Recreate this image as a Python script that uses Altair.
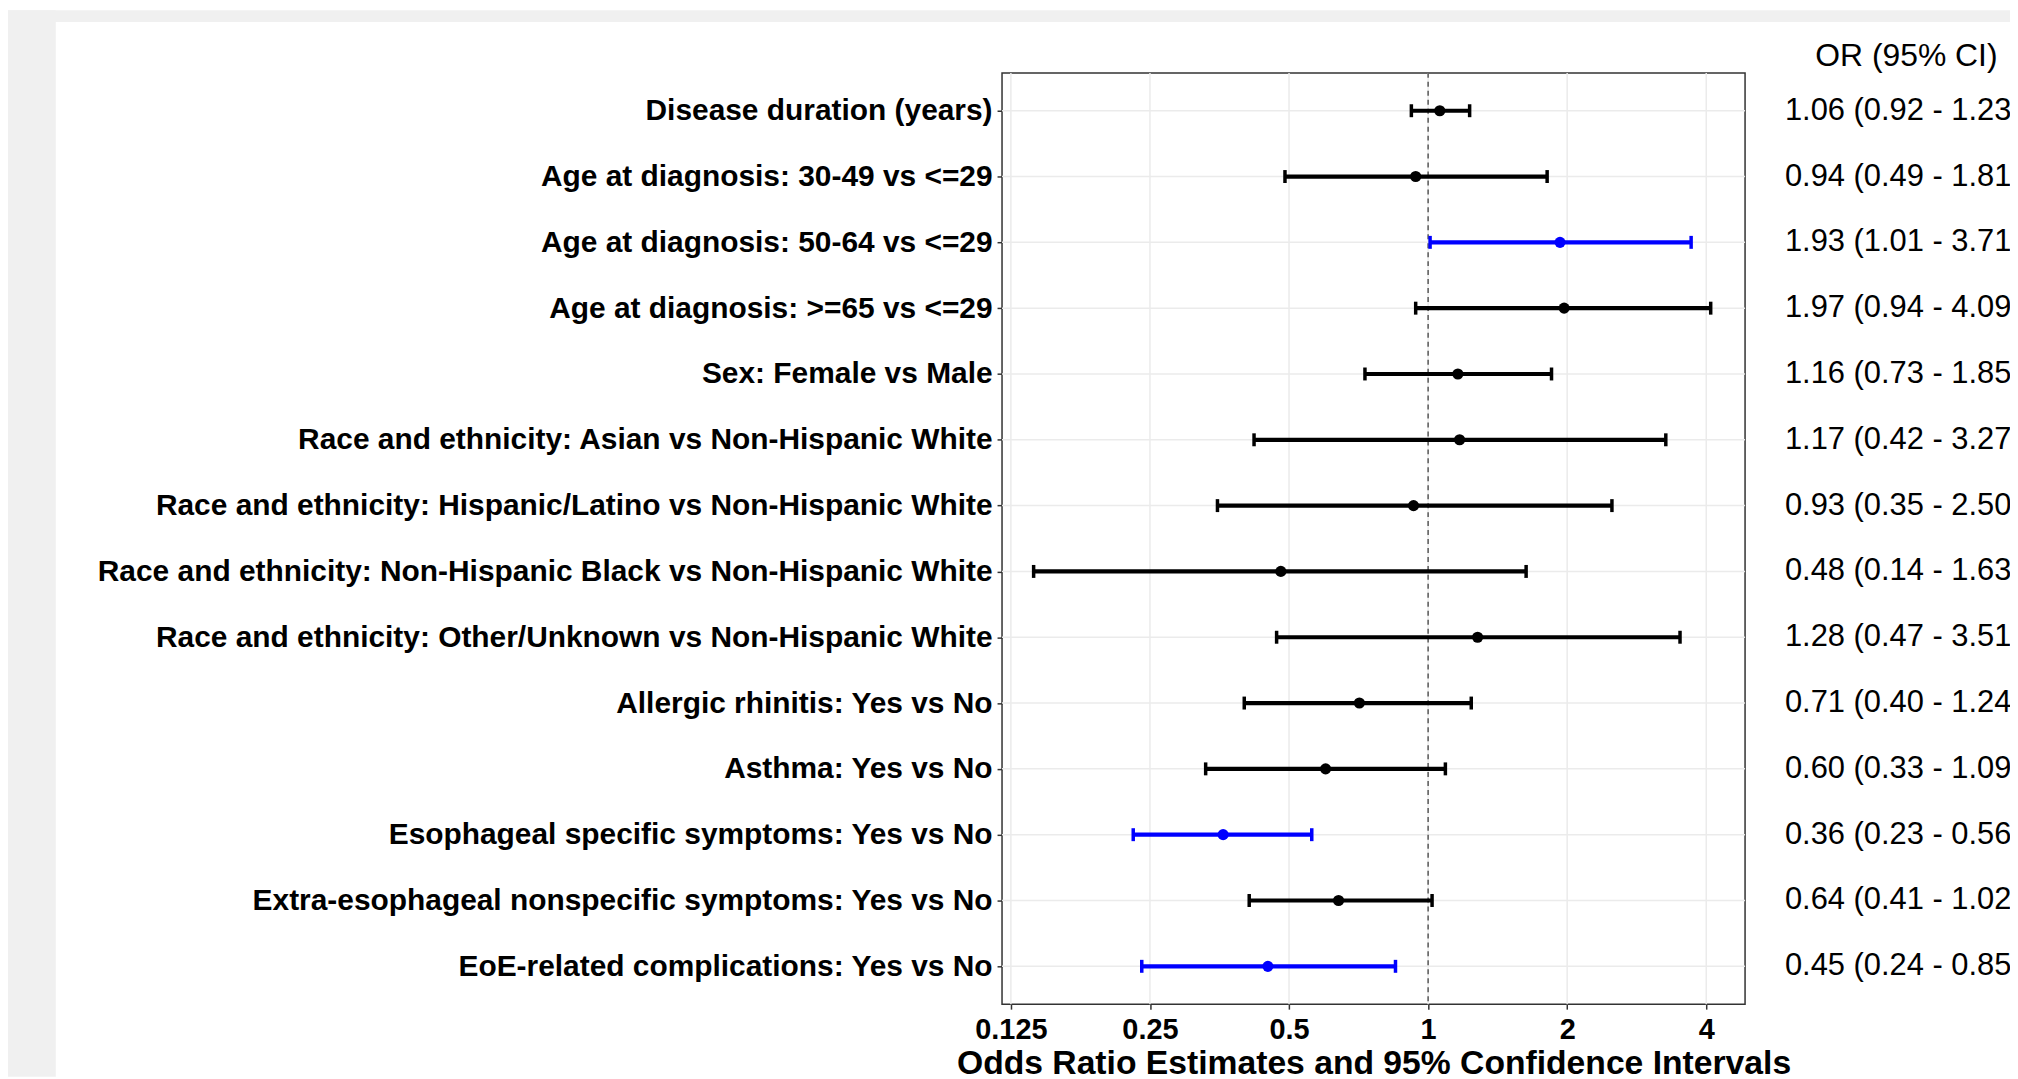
import altair as alt
import pandas as pd

labels = [
    "Disease duration (years)",
    "Age at diagnosis: 30-49 vs <=29",
    "Age at diagnosis: 50-64 vs <=29",
    "Age at diagnosis: >=65 vs <=29",
    "Sex: Female vs Male",
    "Race and ethnicity: Asian vs Non-Hispanic White",
    "Race and ethnicity: Hispanic/Latino vs Non-Hispanic White",
    "Race and ethnicity: Non-Hispanic Black vs Non-Hispanic White",
    "Race and ethnicity: Other/Unknown vs Non-Hispanic White",
    "Allergic rhinitis: Yes vs No",
    "Asthma: Yes vs No",
    "Esophageal specific symptoms: Yes vs No",
    "Extra-esophageal nonspecific symptoms: Yes vs No",
    "EoE-related complications: Yes vs No",
]
or_vals = [1.06, 0.94, 1.93, 1.97, 1.16, 1.17, 0.93, 0.48, 1.28, 0.71, 0.60, 0.36, 0.64, 0.45]
lo_vals = [0.92, 0.49, 1.01, 0.94, 0.73, 0.42, 0.35, 0.14, 0.47, 0.40, 0.33, 0.23, 0.41, 0.24]
hi_vals = [1.23, 1.81, 3.71, 4.09, 1.85, 3.27, 2.50, 1.63, 3.51, 1.24, 1.09, 0.56, 1.02, 0.85]
significant = [False, False, True, False, False, False, False, False, False, False, False, True, False, True]
x_ticks = [0.125, 0.25, 0.5, 1, 2, 4]
ref_value = [1.0]
header = "OR (95% CI)"
x_title = "Odds Ratio Estimates and 95% Confidence Intervals"

W, H = 746, 935
PL, PT, PR, PB = 998, 63, 266, 73
FONT = "Liberation Sans"

df = pd.DataFrame({"label": labels, "or": or_vals, "lo": lo_vals, "hi": hi_vals})
df["sig"] = ["Significant" if s else "Not significant" for s in significant]
df["ci_text"] = [f"{o:.2f} ({l:.2f} - {h:.2f}" for o, l, h in zip(or_vals, lo_vals, hi_vals)]
ticks_df = pd.DataFrame({"tick": x_ticks})
ref_df = pd.DataFrame({"ref": ref_value})
one = pd.DataFrame({"t": [header]})

xscale = alt.Scale(type="log", base=2, domain=[0.1196, 4.854], nice=False)
yscale = alt.Scale(type="point", domain=labels, padding=0.575)
cscale = alt.Scale(domain=["Not significant", "Significant"], range=["#000000", "#0000ff"])

x_axis = alt.Axis(values=x_ticks, labelExpr="'' + datum.value", title=x_title, grid=False,
                  domain=False, tickColor="#333333", tickSize=5, tickWidth=1.5,
                  labelFont=FONT, labelFontSize=29, labelFontWeight="bold", labelColor="black",
                  labelPadding=6, labelFlush=False, labelOverlap=False,
                  titleFont=FONT, titleFontSize=33.8, titleFontWeight="bold", titleColor="black",
                  titlePadding=3)
y_axis = alt.Axis(title=None, grid=False, domain=False, tickColor="#333333", tickSize=5,
                  tickWidth=1.5, labelFont=FONT, labelFontSize=30, labelFontWeight="bold",
                  labelColor="black", labelPadding=5, labelLimit=1200)

X = lambda f: alt.X(f, scale=xscale, axis=x_axis)
Y = alt.Y("label:N", scale=yscale, axis=y_axis, sort=labels)
C = alt.Color("sig:N", scale=cscale, legend=None)

strip_left = alt.Chart(one).mark_rect(color="#f0f0f0").encode(
    x=alt.value(-PL), x2=alt.value(-950), y=alt.value(-PT), y2=alt.value(H + PB))
strip_top = alt.Chart(one).mark_rect(color="#f0f0f0").encode(
    x=alt.value(-PL), x2=alt.value(W + PR), y=alt.value(-PT), y2=alt.value(-51))

xgrid = alt.Chart(ticks_df).mark_rule(color="#ebebeb", strokeWidth=1.5).encode(
    x=X("tick:Q"), y=alt.value(0), y2=alt.value(H))
ygrid = alt.Chart(df).mark_rule(color="#ebebeb", strokeWidth=1.5).encode(
    y=Y, x=alt.value(0), x2=alt.value(W))
refline = alt.Chart(ref_df).mark_rule(color="#333333", strokeWidth=1.2, strokeDash=[5, 4]).encode(
    x=X("ref:Q"), y=alt.value(0), y2=alt.value(H))

ci = alt.Chart(df).mark_rule(strokeWidth=4.2).encode(x=X("lo:Q"), x2="hi:Q", y=Y, color=C)
cap_lo = alt.Chart(df).mark_tick(thickness=3.5, size=13, opacity=1).encode(x=X("lo:Q"), y=Y, color=C)
cap_hi = alt.Chart(df).mark_tick(thickness=3.5, size=13, opacity=1).encode(x=X("hi:Q"), y=Y, color=C)
pts = alt.Chart(df).mark_circle(size=125, opacity=1).encode(x=X("or:Q"), y=Y, color=C)

txt = alt.Chart(df).mark_text(align="left", baseline="middle", font=FONT, fontSize=31,
                              color="black").encode(y=Y, x=alt.value(786), text="ci_text:N")
head = alt.Chart(one).mark_text(align="center", baseline="middle", font=FONT, fontSize=32,
                                color="black").encode(x=alt.value(908), y=alt.value(-17), text="t:N")

chart = alt.layer(strip_left, strip_top, xgrid, ygrid, refline, ci, cap_lo, cap_hi, pts, txt, head).properties(
    width=W, height=H,
    autosize=alt.AutoSizeParams(type="none"),
    padding={"left": PL, "top": PT, "right": PR, "bottom": PB},
    background="white",
).configure_view(stroke="#333333", strokeWidth=1.5)

chart.save("out.html", embed_options={"renderer": "svg", "actions": False})
